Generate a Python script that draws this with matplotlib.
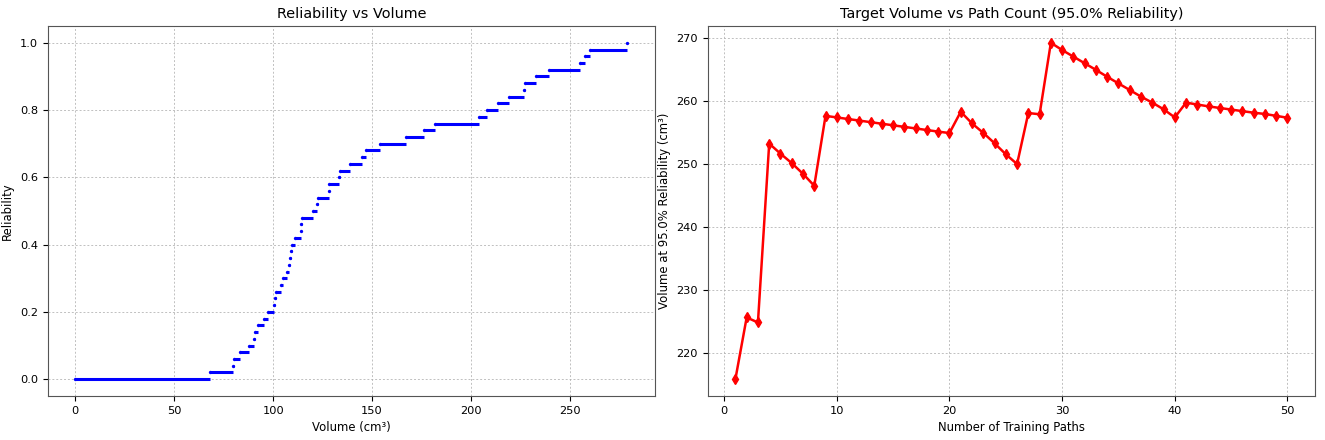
import numpy as np
import matplotlib
matplotlib.use("Agg")
import matplotlib.pyplot as plt

# ---------- data ----------

# left panel: volume (cm3) at which each reliability level starts
step_volumes = [0.0, 68.0, 79.8, 80.2, 83.0, 88.0, 90.3, 90.6, 92.5, 95.5,
                97.5, 100.6, 101.0, 101.4, 104.2, 105.0, 106.8, 108.0, 108.4, 108.8,
                109.5, 111.0, 114.0, 114.3, 114.6, 120.0, 122.3, 122.6, 128.0, 128.3,
                133.5, 133.8, 139.0, 145.0, 146.8, 154.2, 167.0, 176.3, 182.0, 203.8,
                208.0, 213.4, 219.2, 227.0, 227.3, 232.6, 239.2, 254.9, 257.6, 259.9,
                279.0]
reliability_levels = [0.00, 0.02, 0.04, 0.06, 0.08, 0.10, 0.12, 0.14, 0.16, 0.18,
                      0.20, 0.22, 0.24, 0.26, 0.28, 0.30, 0.32, 0.34, 0.36, 0.38,
                      0.40, 0.42, 0.44, 0.46, 0.48, 0.50, 0.52, 0.54, 0.56, 0.58,
                      0.60, 0.62, 0.64, 0.66, 0.68, 0.70, 0.72, 0.74, 0.76, 0.78,
                      0.80, 0.82, 0.84, 0.86, 0.88, 0.90, 0.92, 0.94, 0.96, 0.98,
                      1.00]

# right panel: target volume at 95% reliability vs number of training paths
path_counts = list(range(1, 51))
target_volume = [215.9, 225.7, 224.9, 253.3, 251.7, 250.2, 248.5, 246.6, 257.7, 257.45,
                 257.2, 256.95, 256.7, 256.45, 256.2, 255.95, 255.7, 255.45, 255.2, 254.97,
                 258.35, 256.5, 255.0, 253.35, 251.6, 250.05, 258.15, 257.95, 269.3, 268.15,
                 267.1, 266.05, 265.0, 263.9, 262.85, 261.8, 260.75, 259.8, 258.75, 257.45,
                 259.8, 259.5, 259.2, 258.95, 258.7, 258.45, 258.2, 258.0, 257.7, 257.4]

reliability_target = 95.0

# ---------- plot ----------

fs_title, fs_label, fs_tick = 10.4, 8.4, 8.2
grid_kw = dict(linestyle=(0, (2, 2)), linewidth=0.7, color="#b0b0b0", alpha=0.8)

fig, (ax1, ax2) = plt.subplots(1, 2, figsize=(13.25, 4.4), dpi=100)
fig.subplots_adjust(left=0.036, right=0.9925, bottom=0.1, top=0.941, wspace=0.087)

# step segments without risers (each level held until the next volume)
seg_ends = step_volumes[1:] + [step_volumes[-1]]
ax1.hlines(reliability_levels, step_volumes, seg_ends, colors="blue", linewidth=2.2)
ax1.plot(step_volumes, reliability_levels, "o", color="blue", markersize=2.4, markeredgewidth=0)
ax1.set_title("Reliability vs Volume", fontsize=fs_title)
ax1.set_xlabel("Volume (cm³)", fontsize=fs_label)
ax1.set_ylabel("Reliability", fontsize=fs_label)
ax1.grid(True, **grid_kw)
ax1.tick_params(labelsize=fs_tick)

ax2.plot(path_counts, target_volume, "r-", marker="d", markersize=5.5, linewidth=1.8)
ax2.set_title(f"Target Volume vs Path Count ({reliability_target}% Reliability)", fontsize=fs_title)
ax2.set_xlabel("Number of Training Paths", fontsize=fs_label)
ax2.set_ylabel(f"Volume at {reliability_target}% Reliability (cm³)", fontsize=fs_label)
ax2.grid(True, **grid_kw)
ax2.tick_params(labelsize=fs_tick)

for ax in (ax1, ax2):
    for sp in ax.spines.values():
        sp.set_color("#555555")

fig.savefig("out.png", dpi=100)
